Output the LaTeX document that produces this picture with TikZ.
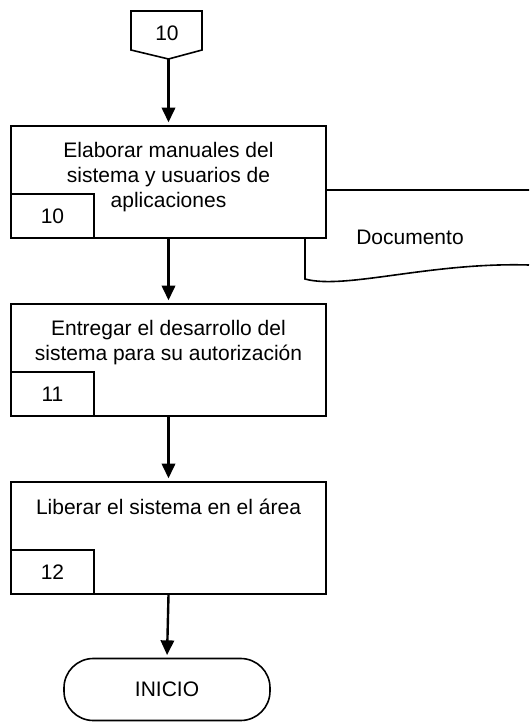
\documentclass[tikz,border=0pt]{standalone}
\usepackage{fontspec}
\setmainfont{Liberation Sans}
\usetikzlibrary{arrows.meta,positioning}
\begin{document}
\begin{tikzpicture}[x=0.75pt,y=-0.75pt,
		font=\fontsize{15.75pt}{18.75pt}\selectfont,
		line width=1.5pt,
		stepbox/.style={draw,fill=white,minimum width=236.25pt,minimum height=84pt,inner sep=0pt},
		steptext/.style={align=center,inner sep=0pt,anchor=north},
		numbox/.style={draw,fill=white,minimum width=62.25pt,minimum height=33pt,inner sep=0pt,anchor=south west},
		flow/.style={-{Triangle[length=11pt,width=10pt]},line width=1.8pt,shorten >=2pt}]
	\useasboundingbox (0,0) rectangle (529,722);
	% conector de pagina
	\node (c10) at (167,33) {10};
	\coordinate (c10tip) at (168.5,59);
	\draw[line width=1.2pt] (131,11) -- (202,11) -- (202,50) -- (c10tip) -- (131,50) -- cycle;
	% documento
	\draw[line width=1.2pt] (529,190) -- (305,190) -- (305,279) .. controls (345,290) and (430,262) .. (529,265);
	\node (doc) at (410,237) {Documento};
	% actividades
	\node[stepbox] (b1) at (168.5,182) {};
	\node[steptext] (t1) at ([yshift=-12pt]b1.north) {Elaborar manuales del\\sistema y usuarios de\\aplicaciones};
	\node[numbox] (n10) at (b1.south west) {10};
	\node[stepbox] (b2) at (168.5,360) {};
	\node[steptext] (t2) at ([yshift=-12pt]b2.north) {Entregar el desarrollo del\\sistema para su autorización};
	\node[numbox] (n11) at (b2.south west) {11};
	\node[stepbox] (b3) at (168.5,538) {};
	\node[steptext] (t3) at ([yshift=-12.5pt]b3.north) {Liberar el sistema en el área};
	\node[numbox] (n12) at (b3.south west) {12};
	\node[draw,line width=1.2pt,rounded corners=22pt,minimum width=154.5pt,minimum height=46.5pt] (fin) at (167,689.5) {INICIO};
	\draw[flow] (c10tip) -- (b1.north);
	\draw[flow] (b1.south) -- (b2.north);
	\draw[flow] (b2.south) -- (b3.north);
	\draw[flow] (b3.south) -- (fin.north);
\end{tikzpicture}
\end{document}
